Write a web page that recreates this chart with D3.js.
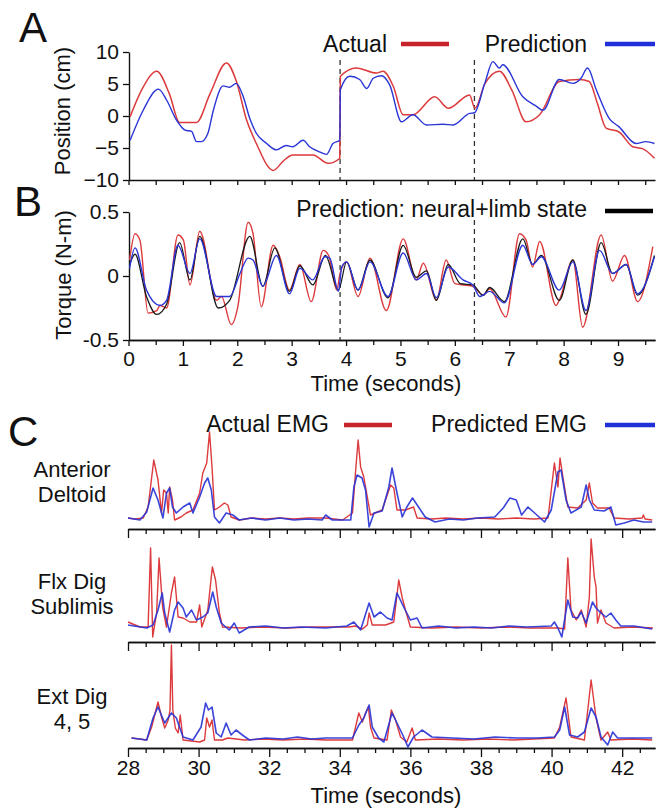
<!DOCTYPE html>
<html><head><meta charset="utf-8">
<script src="https://cdn.jsdelivr.net/npm/d3@7"></script>
<style>
body{margin:0;background:#fff;}
svg{display:block;font-family:"Liberation Sans",Arial,Helvetica,sans-serif;}
</style></head>
<body>
<svg id="c" width="657" height="808"></svg>
<script>
// ---------- DATA ----------
const posTicks = [-10,-5,0,5,10];
const torqueTicks = [-0.5,0,0.5];
const timeTicksAB = [0,1,2,3,4,5,6,7,8,9];
const timeTicksC = [28,30,32,34,36,38,40,42];
const segmentBoundaries = [3.89, 6.36];
const muscles = [["Anterior","Deltoid"],["Flx Dig","Sublimis"],["Ext Dig","4, 5"]];

const positionActual = [[0.03,-0.1],[0.25,4.2],[0.52,7.0],[0.75,3.5],[0.94,-1.0],[1.25,-1.0],[1.5,3.5],[1.80,8.3],[1.98,5.5],[2.17,-0.6],[2.35,-4.3],[2.66,-8.5],[2.85,-7.0],[3.02,-6.1],[3.39,-6.1],[3.67,-7.4],[3.885,-6.6],[3.895,6.2],[4.19,7.5],[4.56,6.7],[4.68,7.0],[4.87,4.6],[5.05,0.2],[5.23,0.2],[5.63,3.0],[5.88,1.2],[6.27,3.3],[6.37,1.2],[6.55,5.0],[6.82,7.0],[7.05,4.0],[7.31,-0.9],[7.56,0.2],[7.92,5.4],[8.29,5.7],[8.47,5.4],[8.62,2.0],[8.78,-1.9],[9.02,-2.5],[9.27,-4.8],[9.45,-5.1],[9.67,-6.6]];
const positionPred = [[0.03,-3.8],[0.27,0.9],[0.55,4.2],[0.70,2.5],[0.88,-0.6],[1.04,-2.2],[1.16,-2.4],[1.25,-4.0],[1.34,-4.0],[1.46,-2.7],[1.56,0.9],[1.74,4.7],[1.86,4.5],[1.98,5.1],[2.11,3.0],[2.23,-0.4],[2.35,-2.7],[2.54,-4.3],[2.72,-5.3],[2.90,-4.6],[3.02,-4.8],[3.21,-3.8],[3.33,-4.8],[3.51,-5.6],[3.64,-6.0],[3.76,-4.3],[3.885,-3.8],[3.895,4.1],[4.07,6.2],[4.25,5.7],[4.38,4.3],[4.50,5.9],[4.65,6.3],[4.80,4.9],[5.02,-0.9],[5.23,0.2],[5.48,-1.4],[5.78,-1.3],[5.97,-1.4],[6.27,0.4],[6.36,0.5],[6.55,5.1],[6.70,8.5],[6.82,7.5],[6.88,8.0],[7.25,3.0],[7.50,1.5],[7.62,0.9],[7.92,5.7],[8.17,5.1],[8.32,5.9],[8.44,7.5],[8.60,4.1],[8.84,-0.4],[9.02,-1.7],[9.33,-4.3],[9.51,-4.0],[9.67,-4.3]];

const torqueActual = [[0.02,0.125],[0.12,0.33],[0.21,0.28],[0.36,-0.29],[0.52,-0.27],[0.58,-0.23],[0.70,-0.25],[0.91,0.32],[1.01,0.28],[1.13,-0.07],[1.31,0.35],[1.62,-0.19],[1.71,-0.16],[1.89,-0.38],[2.01,-0.24],[2.20,0.42],[2.29,0.33],[2.44,-0.24],[2.66,0.24],[2.78,0.15],[2.96,-0.11],[3.15,0.09],[3.36,-0.20],[3.58,0.20],[3.68,0.16],[3.83,-0.11],[3.89,0.02],[4.01,0.11],[4.22,-0.16],[4.44,0.14],[4.74,-0.27],[5.05,0.29],[5.29,-0.03],[5.42,0.10],[5.66,-0.19],[5.84,0.125],[6.00,-0.06],[6.33,-0.08],[6.52,-0.15],[6.64,-0.10],[6.94,-0.32],[7.19,0.33],[7.31,0.28],[7.43,0.07],[7.56,0.27],[7.86,-0.23],[7.92,-0.19],[8.17,0.125],[8.35,-0.40],[8.69,0.32],[8.90,-0.04],[9.12,0.16],[9.36,-0.20],[9.64,0.23]];
const torquePred = [[0.02,0.06],[0.12,0.22],[0.33,-0.11],[0.58,-0.23],[0.70,-0.19],[0.91,0.24],[1.13,0.02],[1.31,0.29],[1.62,-0.16],[1.86,-0.16],[2.05,0.02],[2.20,0.14],[2.29,0.125],[2.47,-0.08],[2.72,0.16],[2.96,-0.14],[3.15,0.06],[3.39,-0.03],[3.61,0.15],[3.70,0.14],[3.86,-0.12],[3.92,0.07],[4.01,0.11],[4.22,-0.11],[4.44,0.11],[4.77,-0.16],[5.05,0.18],[5.29,-0.03],[5.48,0.02],[5.66,-0.17],[5.88,0.07],[6.15,-0.03],[6.33,-0.07],[6.46,-0.16],[6.64,-0.12],[6.91,-0.21],[7.25,0.24],[7.43,0.09],[7.59,0.15],[7.92,-0.11],[8.17,0.11],[8.41,-0.27],[8.66,0.20],[8.90,0.02],[9.15,0.09],[9.36,-0.14],[9.67,0.15]];
const torqueNeuralLimb = [[0.02,0.09],[0.12,0.17],[0.33,-0.16],[0.52,-0.30],[0.70,-0.22],[0.94,0.26],[1.13,-0.03],[1.31,0.31],[1.65,-0.25],[1.86,-0.19],[2.23,0.31],[2.47,-0.08],[2.69,0.22],[2.96,-0.12],[3.15,0.08],[3.39,-0.07],[3.62,0.16],[3.86,-0.11],[4.01,0.11],[4.22,-0.11],[4.44,0.125],[4.77,-0.17],[5.05,0.24],[5.29,-0.01],[5.48,0.04],[5.66,-0.19],[5.88,0.09],[6.10,-0.06],[6.33,-0.07],[6.52,-0.15],[6.64,-0.09],[6.91,-0.20],[7.25,0.29],[7.43,0.09],[7.59,0.16],[7.92,-0.19],[8.17,0.125],[8.41,-0.30],[8.69,0.26],[8.90,0.02],[9.15,0.09],[9.36,-0.15],[9.67,0.16]];

const adActual = [[28.0,0.11],[28.2,0.10],[28.43,0.11],[28.57,0.22],[28.73,0.69],[28.85,0.49],[28.95,0.16],[29.01,0.39],[29.09,0.36],[29.14,0.16],[29.18,0.42],[29.26,0.29],[29.32,0.09],[29.5,0.12],[29.65,0.16],[29.84,0.19],[30.03,0.36],[30.12,0.56],[30.23,0.66],[30.31,0.97],[30.38,0.62],[30.45,0.19],[30.59,0.22],[30.73,0.26],[30.83,0.24],[30.92,0.12],[31.15,0.09],[31.5,0.11],[31.9,0.10],[32.3,0.11],[32.7,0.10],[33.1,0.11],[33.6,0.11],[34.08,0.09],[34.36,0.16],[34.45,0.59],[34.52,0.89],[34.59,0.62],[34.68,0.52],[34.78,0.32],[34.87,0.14],[35.20,0.19],[35.44,0.44],[35.53,0.41],[35.62,0.19],[35.86,0.19],[36.09,0.22],[36.19,0.11],[36.6,0.10],[37.0,0.11],[37.5,0.10],[38.0,0.11],[38.5,0.10],[39.0,0.11],[39.5,0.10],[39.90,0.11],[40.08,0.66],[40.18,0.42],[40.24,0.71],[40.32,0.52],[40.46,0.22],[40.74,0.21],[40.98,0.29],[41.07,0.46],[41.16,0.26],[41.30,0.21],[41.63,0.21],[41.77,0.11],[42.2,0.10],[42.57,0.11],[42.6,0.14],[42.65,0.10],[42.85,0.09]];
const adPred = [[28.0,0.11],[28.34,0.09],[28.53,0.17],[28.71,0.41],[28.85,0.29],[28.99,0.11],[29.09,0.36],[29.18,0.41],[29.26,0.22],[29.37,0.16],[29.56,0.22],[29.75,0.26],[29.84,0.16],[30.03,0.32],[30.17,0.46],[30.26,0.51],[30.36,0.39],[30.45,0.12],[30.59,0.06],[30.78,0.16],[30.97,0.14],[31.15,0.09],[31.5,0.11],[31.9,0.09],[32.3,0.11],[32.7,0.09],[33.1,0.10],[33.5,0.09],[33.6,0.14],[33.79,0.09],[34.31,0.09],[34.40,0.42],[34.49,0.54],[34.63,0.51],[34.73,0.39],[34.83,0.02],[34.97,0.16],[35.20,0.18],[35.39,0.42],[35.48,0.61],[35.62,0.36],[35.77,0.12],[35.90,0.22],[36.06,0.31],[36.23,0.22],[36.42,0.12],[36.70,0.07],[37.1,0.10],[37.5,0.09],[37.9,0.11],[38.39,0.12],[38.63,0.21],[38.82,0.31],[39.0,0.29],[39.15,0.14],[39.33,0.22],[39.52,0.16],[39.80,0.07],[39.99,0.19],[40.18,0.57],[40.27,0.59],[40.41,0.29],[40.55,0.16],[40.84,0.22],[40.98,0.44],[41.07,0.29],[41.21,0.19],[41.49,0.18],[41.68,0.22],[41.82,0.04],[42.06,0.06],[42.33,0.09],[42.6,0.07],[42.85,0.07]];
const fdsActual = [[28.0,0.20],[28.34,0.15],[28.57,0.15],[28.64,0.94],[28.70,0.05],[28.81,0.29],[28.88,0.84],[28.98,0.35],[29.09,0.15],[29.23,0.49],[29.32,0.65],[29.42,0.25],[29.56,0.24],[29.75,0.20],[29.94,0.20],[30.03,0.37],[30.09,0.15],[30.26,0.32],[30.39,0.75],[30.48,0.62],[30.59,0.29],[30.68,0.15],[31.2,0.14],[31.8,0.15],[32.5,0.14],[33.2,0.15],[34.26,0.15],[34.45,0.16],[34.64,0.13],[34.78,0.17],[34.83,0.29],[34.92,0.17],[35.30,0.17],[35.53,0.20],[35.67,0.62],[35.77,0.44],[35.86,0.32],[36.0,0.15],[36.6,0.14],[37.3,0.15],[38.0,0.14],[38.7,0.15],[39.4,0.14],[40.18,0.14],[40.37,0.13],[40.46,0.84],[40.55,0.32],[40.70,0.22],[40.84,0.32],[40.98,0.15],[41.07,0.45],[41.12,1.03],[41.21,0.65],[41.26,0.55],[41.30,0.19],[41.40,0.32],[41.54,0.19],[41.77,0.14],[42.3,0.15],[42.87,0.14]];
const fdsPred = [[28.0,0.17],[28.53,0.14],[28.71,0.17],[28.85,0.32],[28.97,0.49],[29.04,0.29],[29.18,0.10],[29.32,0.32],[29.42,0.40],[29.56,0.34],[29.65,0.25],[29.80,0.32],[29.94,0.22],[30.12,0.25],[30.26,0.29],[30.40,0.50],[30.50,0.35],[30.64,0.19],[30.87,0.12],[31.01,0.19],[31.15,0.09],[31.43,0.15],[31.9,0.16],[32.4,0.14],[32.9,0.15],[33.6,0.14],[34.2,0.16],[34.40,0.20],[34.59,0.12],[34.83,0.39],[34.97,0.25],[35.15,0.30],[35.34,0.24],[35.48,0.22],[35.62,0.49],[35.81,0.35],[36.0,0.22],[36.19,0.24],[36.33,0.14],[36.8,0.16],[37.3,0.14],[37.8,0.15],[38.3,0.14],[38.8,0.16],[39.3,0.15],[39.99,0.16],[40.08,0.20],[40.18,0.14],[40.29,0.05],[40.46,0.42],[40.60,0.25],[40.74,0.24],[40.84,0.30],[40.98,0.19],[41.16,0.40],[41.26,0.34],[41.40,0.29],[41.54,0.25],[41.68,0.29],[41.82,0.22],[41.96,0.16],[42.33,0.16],[42.85,0.13]];
const edActual = [[28.1,0.10],[28.53,0.08],[28.67,0.21],[28.85,0.46],[28.95,0.31],[29.04,0.20],[29.14,0.28],[29.19,0.38],[29.23,1.03],[29.27,0.38],[29.34,0.20],[29.42,0.15],[29.48,0.33],[29.56,0.08],[30.03,0.06],[30.17,0.08],[30.23,0.30],[30.31,0.21],[30.38,0.28],[30.45,0.08],[30.68,0.08],[30.83,0.10],[31.3,0.08],[31.8,0.09],[32.4,0.08],[33.0,0.09],[33.6,0.08],[34.36,0.08],[34.54,0.35],[34.64,0.26],[34.73,0.35],[34.81,0.41],[34.87,0.21],[34.97,0.10],[35.34,0.08],[35.46,0.38],[35.58,0.28],[35.72,0.11],[35.90,0.06],[36.05,0.20],[36.14,0.08],[36.8,0.09],[37.5,0.08],[38.2,0.09],[38.9,0.08],[39.5,0.09],[40.08,0.10],[40.23,0.21],[40.41,0.50],[40.55,0.11],[40.93,0.08],[41.12,0.68],[41.26,0.30],[41.40,0.08],[41.59,0.16],[41.68,0.08],[42.3,0.09],[42.85,0.08]];
const edPred = [[28.1,0.10],[28.53,0.08],[28.71,0.30],[28.85,0.41],[29.04,0.25],[29.23,0.35],[29.37,0.30],[29.56,0.11],[29.84,0.08],[30.07,0.21],[30.20,0.45],[30.28,0.38],[30.38,0.41],[30.50,0.15],[30.64,0.11],[30.78,0.25],[30.92,0.13],[31.06,0.18],[31.24,0.13],[31.44,0.08],[31.9,0.10],[32.4,0.09],[32.8,0.11],[33.2,0.09],[33.6,0.10],[34.36,0.10],[34.54,0.23],[34.68,0.30],[34.83,0.43],[34.92,0.21],[35.10,0.10],[35.25,0.06],[35.48,0.35],[35.62,0.25],[35.81,0.11],[35.93,0.01],[36.09,0.11],[36.33,0.18],[36.61,0.11],[37.2,0.10],[37.8,0.09],[38.4,0.11],[39.0,0.10],[39.6,0.10],[40.08,0.11],[40.23,0.18],[40.37,0.41],[40.51,0.13],[40.74,0.11],[40.93,0.16],[41.12,0.40],[41.26,0.31],[41.40,0.11],[41.59,0.03],[41.73,0.16],[41.87,0.10],[42.3,0.10],[42.85,0.10]];
const emgActual = [adActual, fdsActual, edActual];
const emgPred = [adPred, fdsPred, edPred];

// ---------- STYLE ----------
const RED = "#dc3a3c", BLUE = "#2a35d6", BLACK = "#1a1a1a";
const LRED = "#c6232b", LBLUE = "#1f30d8";

const svg = d3.select("#c");

const xAB = d3.scaleLinear().domain([0, 9.68]).range([128.5, 655]);
const yA = d3.scaleLinear().domain([-10, 10]).range([180, 52]);
const yB = d3.scaleLinear().domain([-0.5, 0.5]).range([340, 212]);
const xC = d3.scaleLinear().domain([28, 42.93]).range([128, 655]);
const cAxisY = [529, 642, 748];
const yC = cAxisY.map(a => d3.scaleLinear().domain([0, 1]).range([a, a - 100]));

function styleAxis(g, fs){
  g.selectAll("path.domain").attr("stroke", "#111").attr("stroke-width", 1.4);
  g.selectAll(".tick line").attr("stroke", "#111").attr("stroke-width", 1.3);
  g.selectAll("text").attr("fill", "#111").style("font-size", fs + "px").style("font-family", '"Liberation Sans",Arial,Helvetica,sans-serif');
}

const halfTicks = d3.range(0, 20).map(i => i * 0.5).filter(v => v <= 9.6);
const minorAB = halfTicks.filter(v => !timeTicksAB.includes(v));

// ----- Panel A -----
const gA = svg.append("g");
gA.append("g").attr("transform", "translate(0,180)")
  .call(d3.axisBottom(xAB).tickValues(halfTicks).tickSize(5).tickSizeOuter(0).tickFormat(""))
  .call(g => styleAxis(g, 20))
  .call(g => g.selectAll("text").remove());
gA.append("g").attr("transform", "translate(129,0)")
  .call(d3.axisLeft(yA).tickValues(posTicks).tickSize(6).tickSizeOuter(0).tickPadding(4).tickFormat(d3.format("d")))
  .call(g => styleAxis(g, 21));

segmentBoundaries.forEach(b => {
  gA.append("line").attr("x1", xAB(b)).attr("x2", xAB(b)).attr("y1", 60).attr("y2", 180)
    .attr("stroke", "#333").attr("stroke-width", 1.3).attr("stroke-dasharray", "5,4");
});

const lineA = d3.line().x(d => xAB(d[0])).y(d => yA(d[1])).curve(d3.curveMonotoneX);
gA.append("path").datum(positionActual).attr("d", lineA).attr("fill", "none").attr("stroke", RED).attr("stroke-width", 1.5);
gA.append("path").datum(positionPred).attr("d", lineA).attr("fill", "none").attr("stroke", BLUE).attr("stroke-width", 1.4);

gA.append("text").attr("x", 62).attr("y", 111).attr("transform", "rotate(-90,62,111)")
  .attr("text-anchor", "middle").attr("dy", "0.36em").style("font-size", "22px").text("Position (cm)");
gA.append("text").attr("x", 19).attr("y", 42).style("font-size", "42px").text("A");
gA.append("text").attr("x", 387).attr("y", 52).attr("text-anchor", "end").style("font-size", "23px").text("Actual");
gA.append("line").attr("x1", 401).attr("x2", 449).attr("y1", 44).attr("y2", 44).attr("stroke", LRED).attr("stroke-width", 4.5);
gA.append("text").attr("x", 587).attr("y", 52).attr("text-anchor", "end").style("font-size", "23px").text("Prediction");
gA.append("line").attr("x1", 605).attr("x2", 655).attr("y1", 44).attr("y2", 44).attr("stroke", LBLUE).attr("stroke-width", 4.5);

// ----- Panel B -----
const gB = svg.append("g");
gB.append("g").attr("transform", "translate(0,340)")
  .call(d3.axisBottom(xAB).tickValues(minorAB).tickSize(5).tickSizeOuter(0).tickFormat(""))
  .call(g => styleAxis(g, 21))
  .call(g => g.selectAll("text").remove());
gB.append("g").attr("transform", "translate(0,340)")
  .call(d3.axisBottom(xAB).tickValues(timeTicksAB).tickSize(6).tickSizeOuter(0).tickPadding(5).tickFormat(d3.format("d")))
  .call(g => styleAxis(g, 21));
gB.append("g").attr("transform", "translate(129,0)")
  .call(d3.axisLeft(yB).tickValues(torqueTicks).tickSize(6).tickSizeOuter(0).tickPadding(4).tickFormat(d => d === 0 ? "0" : String(d)))
  .call(g => styleAxis(g, 21));

segmentBoundaries.forEach(b => {
  gB.append("line").attr("x1", xAB(b)).attr("x2", xAB(b)).attr("y1", 220).attr("y2", 340)
    .attr("stroke", "#333").attr("stroke-width", 1.3).attr("stroke-dasharray", "5,4");
});

const lineB = d3.line().x(d => xAB(d[0])).y(d => yB(d[1])).curve(d3.curveMonotoneX);
gB.append("path").datum(torqueActual).attr("d", lineB).attr("fill", "none").attr("stroke", RED).attr("stroke-width", 1.4);
gB.append("path").datum(torqueNeuralLimb).attr("d", lineB).attr("fill", "none").attr("stroke", BLACK).attr("stroke-width", 1.3);
gB.append("path").datum(torquePred).attr("d", lineB).attr("fill", "none").attr("stroke", BLUE).attr("stroke-width", 1.4);

gB.append("text").attr("x", 63).attr("y", 275).attr("transform", "rotate(-90,63,275)")
  .attr("text-anchor", "middle").attr("dy", "0.36em").style("font-size", "22px").text("Torque (N-m)");
gB.append("text").attr("x", 14).attr("y", 216).style("font-size", "42px").text("B");
gB.append("text").attr("x", 587).attr("y", 217).attr("text-anchor", "end").style("font-size", "23px").text("Prediction: neural+limb state");
gB.append("line").attr("x1", 605).attr("x2", 653).attr("y1", 211).attr("y2", 211).attr("stroke", "#000").attr("stroke-width", 4.5);
gB.append("text").attr("x", 386).attr("y", 391).attr("text-anchor", "middle").style("font-size", "22px").text("Time (seconds)");

// ----- Panel C -----
const gC = svg.append("g");
const cHalf = d3.range(0, 30).map(i => 28 + i * 0.5).filter(v => v <= 42.9);
cAxisY.forEach((ay, i) => {
  gC.append("g").attr("transform", `translate(0,${ay})`)
    .call(d3.axisBottom(xC).tickValues(cHalf.filter(v => !timeTicksC.includes(v))).tickSize(5).tickSizeOuter(0).tickFormat(""))
    .call(g => styleAxis(g, 21))
    .call(g => g.selectAll("text").remove());
  gC.append("g").attr("transform", `translate(0,${ay})`)
    .call(d3.axisBottom(xC).tickValues(timeTicksC).tickSize(9).tickSizeOuter(0).tickPadding(3).tickFormat(d3.format("d")))
    .call(g => styleAxis(g, 21))
    .call(g => { if (i !== 2) g.selectAll("text").remove(); });
  const lineC = d3.line().x(d => xC(d[0])).y(d => yC[i](d[1]));
  gC.append("path").datum(emgActual[i]).attr("d", lineC).attr("fill", "none").attr("stroke", RED).attr("stroke-width", 1.4).attr("stroke-linejoin", "round");
  gC.append("path").datum(emgPred[i]).attr("d", lineC).attr("fill", "none").attr("stroke", BLUE).attr("stroke-width", 1.6).attr("stroke-opacity", 0.92).attr("stroke-linejoin", "round");
});

const labelY = [[477, 502], [589, 614], [704, 729]];
muscles.forEach((m, i) => {
  m.forEach((s, j) => {
    gC.append("text").attr("x", 72).attr("y", labelY[i][j]).attr("text-anchor", "middle").style("font-size", "22px").text(s);
  });
});

gC.append("text").attr("x", 8).attr("y", 446).style("font-size", "42px").text("C");
gC.append("text").attr("x", 329).attr("y", 432).attr("text-anchor", "end").style("font-size", "23px").text("Actual EMG");
gC.append("line").attr("x1", 344).attr("x2", 392).attr("y1", 425).attr("y2", 425).attr("stroke", LRED).attr("stroke-width", 4.5);
gC.append("text").attr("x", 587).attr("y", 432).attr("text-anchor", "end").style("font-size", "23px").text("Predicted EMG");
gC.append("line").attr("x1", 605).attr("x2", 655).attr("y1", 425).attr("y2", 425).attr("stroke", LBLUE).attr("stroke-width", 4.5);
gC.append("text").attr("x", 386).attr("y", 803).attr("text-anchor", "middle").style("font-size", "22px").text("Time (seconds)");

svg.selectAll("text").attr("fill", "#111");
</script>
</body></html>
